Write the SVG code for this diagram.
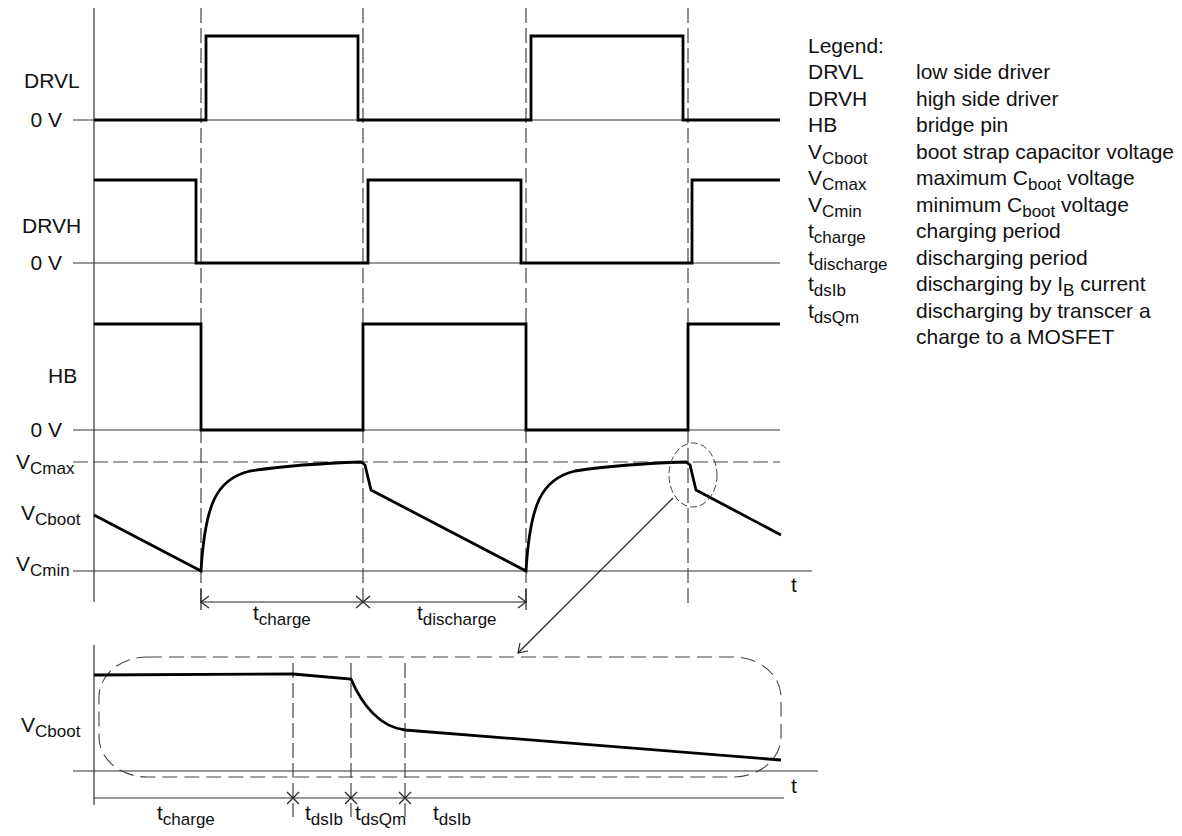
<svg xmlns="http://www.w3.org/2000/svg" width="1182" height="836" viewBox="0 0 1182 836">
<style>
text{font-family:"Liberation Sans",Arial,sans-serif;font-size:21px;fill:#111}
.sub{font-size:17px}
.ax{stroke:#333;stroke-width:1.2;fill:none}
.dash{stroke:#444;stroke-width:1.2;fill:none;stroke-dasharray:15 5}
.dash2{stroke:#444;stroke-width:1.1;fill:none;stroke-dasharray:15 7}
.sig{stroke:#000;stroke-width:2.8;fill:none;stroke-linejoin:miter}
.thin{stroke:#222;stroke-width:1.2;fill:none}
</style>
<rect width="1182" height="836" fill="#fff"/>
<g id="axes">
<line class="ax" x1="94" y1="8" x2="94" y2="602"/>
<line class="ax" x1="73" y1="120" x2="780" y2="120"/>
<line class="ax" x1="73" y1="263" x2="780" y2="263"/>
<line class="ax" x1="73" y1="430" x2="780" y2="430"/>
<line class="ax" x1="73" y1="571" x2="812" y2="571"/>
<line class="dash" x1="73" y1="462" x2="780" y2="462"/>
<line class="dash" x1="201" y1="8" x2="201" y2="608"/>
<line class="dash" x1="363" y1="8" x2="363" y2="608"/>
<line class="dash" x1="526" y1="8" x2="526" y2="608"/>
<line class="dash" x1="688" y1="8" x2="688" y2="608"/>
</g>
<g id="signal-drvl"><path class="sig" d="M94,120 H206 V36 H358 V120 H531 V36 H683 V120 H780"/></g>
<g id="signal-drvh"><path class="sig" d="M94,180 H196 V263 H368 V180 H521 V263 H692 V180 H780"/></g>
<g id="signal-hb"><path class="sig" d="M94,324 H201 V430 H363 V324 H526 V430 H688 V324 H780"/></g>
<g id="signal-vcboot"><path class="sig" d="M94,515 L201,571 C205,505 216,479 250,471 C290,465 330,463 361,462 L365,465 L371,490 L526,571 C530,505 541,479 575,471 C615,465 655,463 686,462 L690,465 L696,490 L781,535"/></g>
<g id="labels">
<text x="24" y="88">DRVL</text>
<text x="62" y="127" text-anchor="end">0 V</text>
<text x="22" y="233">DRVH</text>
<text x="62" y="270" text-anchor="end">0 V</text>
<text x="48" y="383">HB</text>
<text x="62" y="437" text-anchor="end">0 V</text>
<text x="16" y="469">V<tspan class="sub" dy="5">Cmax</tspan></text>
<text x="21" y="520">V<tspan class="sub" dy="5">Cboot</tspan></text>
<text x="16" y="571">V<tspan class="sub" dy="5">Cmin</tspan></text>
<text x="791" y="592">t</text>
<text x="253" y="620">t<tspan class="sub" dy="5">charge</tspan></text>
<text x="417" y="620">t<tspan class="sub" dy="5">discharge</tspan></text>
</g>
<g id="zoom-marker">
<ellipse class="dash" cx="693" cy="475" rx="24" ry="32" style="stroke-dasharray:7 3;stroke-width:1"/>
</g>
<g id="detail">
<line class="ax" x1="94" y1="645" x2="94" y2="805"/>
<line class="ax" x1="73" y1="771" x2="818" y2="771"/>
<line class="ax" x1="94" y1="798" x2="784" y2="798"/>
<rect class="dash2" x="99" y="657" width="682" height="120" rx="48" ry="40"/>
<line class="dash" x1="293" y1="663" x2="293" y2="817"/>
<line class="dash" x1="351" y1="663" x2="351" y2="817"/>
<line class="dash" x1="405" y1="663" x2="405" y2="817"/>
<path class="sig" d="M94,675 L293,674 L351,679 C362,705 380,727 405,730 L781,760"/>
<text x="21" y="732">V<tspan class="sub" dy="5">Cboot</tspan></text>
<text x="791" y="793">t</text>
<text x="157" y="820">t<tspan class="sub" dy="5">charge</tspan></text>
<text x="305" y="820">t<tspan class="sub" dy="5">dsIb</tspan></text>
<text x="355" y="820">t<tspan class="sub" dy="5">dsQm</tspan></text>
<text x="433" y="820">t<tspan class="sub" dy="5">dsIb</tspan></text>
</g>
<g id="connectors">
<line class="thin" x1="673" y1="498" x2="518" y2="653"/>
<path class="thin" d="M528,651 L518,653 L520,643"/>
<line class="thin" x1="201" y1="602" x2="526" y2="602"/>
<line class="thin" x1="201" y1="589" x2="201" y2="610"/>
<line class="thin" x1="526" y1="589" x2="526" y2="610"/>
<path class="thin" d="M209,596 L201,602 L209,608"/>
<path class="thin" d="M518,596 L526,602 L518,608"/>
<path class="thin" d="M356,596 L370,608 M356,608 L370,596"/>
<path class="thin" d="M287,792 L299,804 M287,804 L299,792"/>
<path class="thin" d="M345,792 L357,804 M345,804 L357,792"/>
<path class="thin" d="M399,792 L411,804 M399,804 L411,792"/>
</g>
<g id="legend">
<text x="808" y="53">Legend:</text>
<text x="808" y="79">DRVL</text><text x="916" y="79">low side driver</text>
<text x="808" y="106">DRVH</text><text x="916" y="106">high side driver</text>
<text x="808" y="132">HB</text><text x="916" y="132">bridge pin</text>
<text x="808" y="159">V<tspan class="sub" dy="5">Cboot</tspan></text><text x="916" y="159">boot strap capacitor voltage</text>
<text x="808" y="185">V<tspan class="sub" dy="5">Cmax</tspan></text><text x="916" y="185">maximum C<tspan class="sub" dy="5">boot</tspan><tspan dy="-5"> voltage</tspan></text>
<text x="808" y="212">V<tspan class="sub" dy="5">Cmin</tspan></text><text x="916" y="212">minimum C<tspan class="sub" dy="5">boot</tspan><tspan dy="-5"> voltage</tspan></text>
<text x="808" y="238">t<tspan class="sub" dy="5">charge</tspan></text><text x="916" y="238">charging period</text>
<text x="808" y="265">t<tspan class="sub" dy="5">discharge</tspan></text><text x="916" y="265">discharging period</text>
<text x="808" y="291">t<tspan class="sub" dy="5">dsIb</tspan></text><text x="916" y="291">discharging by I<tspan class="sub" dy="5">B</tspan><tspan dy="-5"> current</tspan></text>
<text x="808" y="318">t<tspan class="sub" dy="5">dsQm</tspan></text><text x="916" y="318">discharging by transcer a</text>
<text x="916" y="344">charge to a MOSFET</text>
</g>
</svg>
